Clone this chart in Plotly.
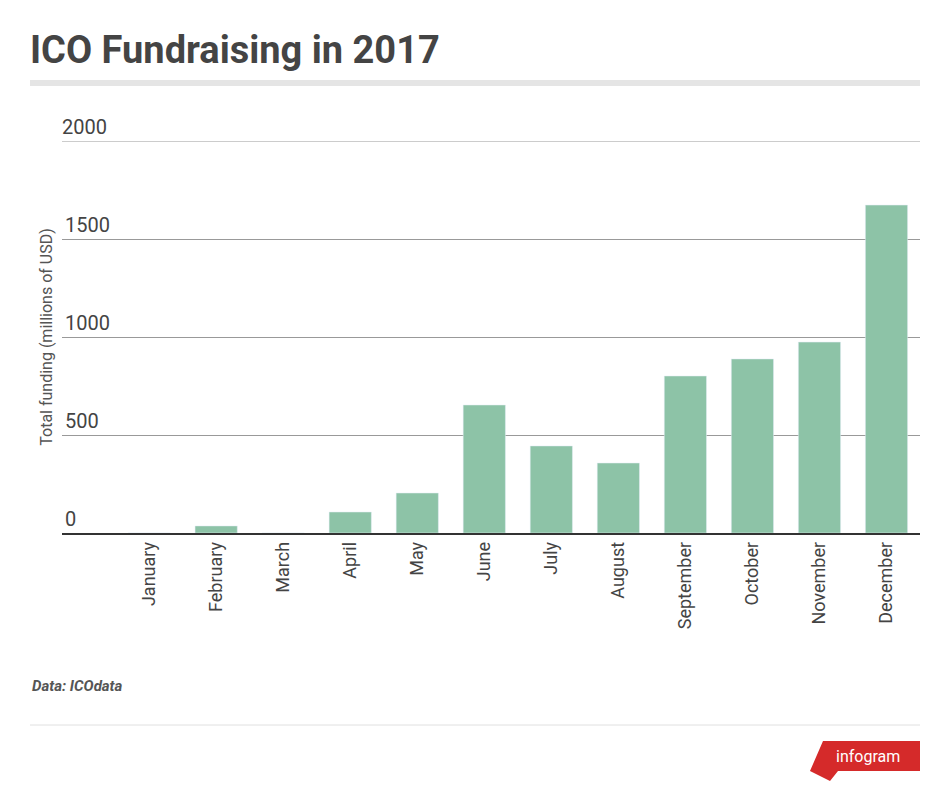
import plotly.graph_objects as go

months = ["January","February","March","April","May","June","July","August",
          "September","October","November","December"]
funding = [0.1, 36, 0, 107, 204, 653, 444, 357, 801, 888, 974, 1673]
yticks = [0, 500, 1000, 1500, 2000]

fig = go.Figure(go.Bar(x=list(range(12)), y=funding, marker_color="#8dc3a7", width=0.63))

def px(x): return (x - 62) / 858
def py(y): return (533 - y) / 392

fig.update_layout(
    width=950, height=799, plot_bgcolor="white", paper_bgcolor="white",
    margin=dict(l=62, r=30, t=141, b=266),
    font=dict(family="Roboto", color="#444"),
    showlegend=False,
    xaxis=dict(range=[-1.3, 11.5], tickmode="array", tickvals=list(range(12)), ticktext=months,
               tickangle=-90, tickfont=dict(size=18, color="#444"), showline=True,
               linecolor="#333", linewidth=1.5, showgrid=False, ticks=""),
    yaxis=dict(range=[0, 2000], tickvals=yticks[:-1], ticklabelposition="inside top",
               tickfont=dict(size=20, color="#444"), gridcolor="#999", zeroline=False,
               title=dict(text="Total funding (millions of USD)", font=dict(size=16, color="#555"), standoff=8)),
    title=dict(text="<b>ICO Fundraising in 2017</b>", x=30/950, xanchor="left", y=1-50/799, yanchor="middle",
               font=dict(size=38, color="#444")),
)
# top gridline and label for the last tick
fig.add_shape(type="line", xref="paper", yref="y", x0=0, x1=1, y0=yticks[-1], y1=yticks[-1],
              line=dict(color="#999", width=1))
fig.add_annotation(text=str(yticks[-1]), xref="paper", yref="y", x=0, y=yticks[-1], xanchor="left",
                   yanchor="bottom", showarrow=False, font=dict(size=20, color="#444"), xshift=-2)
fig.add_shape(type="line", xref="paper", yref="paper", x0=px(30), x1=1, y0=py(83), y1=py(83),
              line=dict(color="#e5e5e5", width=6))
fig.add_shape(type="line", xref="paper", yref="paper", x0=px(30), x1=1, y0=py(725), y1=py(725),
              line=dict(color="#e0e0e0", width=1))
fig.add_annotation(text="<b><i>Data: ICOdata</i></b>", xref="paper", yref="paper", x=px(30), y=py(686),
                   xanchor="left", yanchor="middle", showarrow=False, font=dict(size=15, color="#555"))
fig.add_shape(type="path", xref="paper", yref="paper", layer="below",
              path="M {},{} L {},{} L {},{} L {},{} L {},{} L {},{} Z".format(
                  px(823), py(741), 1, py(741), 1, py(771),
                  px(838), py(771), px(830), py(781), px(810), py(771)),
              fillcolor="#d52a2a", line=dict(width=0))
fig.add_annotation(text="infogram", xref="paper", yref="paper", x=px(868), y=py(756),
                   xanchor="center", yanchor="middle",
                   showarrow=False, font=dict(size=16, color="white"))
fig.write_html("out.html", config={"displayModeBar": False})
with open("out.html") as f:
    s = f.read()
s = s.replace("<head>", "<head><style>body{margin:0;}</style>", 1)
with open("out.html", "w") as f:
    f.write(s)
